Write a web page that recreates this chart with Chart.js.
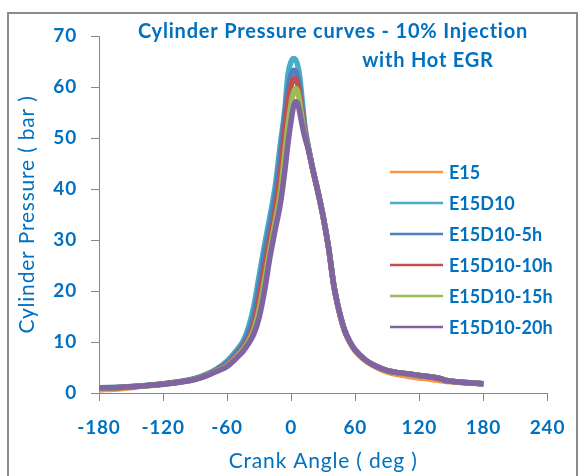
<!DOCTYPE html>
<html>
<head>
<meta charset="utf-8">
<title>Cylinder Pressure curves</title>
<script src="https://cdn.jsdelivr.net/npm/chart.js@4"></script>
<style>
  body { margin: 0; background: #fff; }
  #wrap { width: 579px; height: 476px; position: relative; }
</style>
</head>
<body>
<div id="wrap"><canvas id="myChart"></canvas></div>
<script>
'use strict'

// crank angle (deg) shared by all curves
let crankAngles = [-180, -160, -140, -120, -100, -90, -80, -70, -60, -50,
    -45, -40, -35, -30, -25, -20, -15, -10, -6, -3,
    0, 2, 4, 6, 8, 10, 13, 16, 20, 25,
    30, 35, 40, 45, 50, 55, 60, 70, 80, 90,
    100, 110, 120, 130, 140, 145, 150, 160, 170, 180];

// cylinder pressure (bar)
let e15 = [0.6, 0.85, 1.3, 1.75, 2.3, 2.75, 3.45, 4.5, 5.85, 8.1,
    9.5, 11.7, 15.1, 20.8, 27.0, 32.6, 38.4, 46.5, 54.2, 59.3,
    62.3, 63.1, 63.0, 61.8, 59.6, 56.0, 51.3, 48.0, 44.0, 39.3,
    34.3, 28.3, 20.8, 15.8, 12.1, 9.8, 8.2, 6.2, 5.0, 4.1,
    3.6, 3.25, 2.95, 2.7, 2.4, 2.25, 2.2, 2.0, 1.9, 1.75];
let e15d10 = [1.05, 1.15, 1.4, 1.8, 2.4, 2.85, 3.6, 4.7, 6.3, 8.7,
    10.2, 12.9, 17.0, 23.0, 29.0, 34.5, 40.5, 49.0, 55.5, 62.5,
    65.0, 65.6, 65.4, 64.3, 62.0, 58.0, 52.0, 48.3, 44.2, 39.6,
    34.6, 28.5, 21.0, 16.0, 12.3, 10.0, 8.4, 6.4, 5.2, 4.4,
    4.0, 3.75, 3.45, 3.2, 2.8, 2.45, 2.3, 2.1, 1.95, 1.8];
let e15d10_5h = [1.0, 1.12, 1.38, 1.78, 2.35, 2.8, 3.5, 4.55, 5.9, 8.2,
    9.6, 11.8, 15.2, 21.0, 27.2, 32.8, 38.6, 46.8, 54.5, 59.5,
    62.5, 63.3, 63.1, 62.0, 59.8, 56.2, 51.5, 48.2, 44.1, 39.5,
    34.5, 28.5, 21.0, 16.0, 12.3, 10.0, 8.4, 6.4, 5.2, 4.4,
    4.0, 3.75, 3.45, 3.2, 2.8, 2.45, 2.3, 2.1, 1.95, 1.8];
let e15d10_10h = [1.0, 1.1, 1.36, 1.75, 2.3, 2.75, 3.42, 4.4, 5.6, 7.7,
    9.0, 10.7, 13.3, 18.5, 24.5, 30.2, 35.6, 43.2, 51.5, 57.0,
    60.3, 61.5, 61.6, 60.6, 58.3, 55.0, 50.8, 48.0, 44.0, 39.5,
    34.5, 28.5, 21.0, 16.0, 12.3, 10.0, 8.4, 6.4, 5.2, 4.4,
    4.0, 3.75, 3.45, 3.2, 2.8, 2.45, 2.3, 2.1, 1.95, 1.8];
let e15d10_15h = [1.0, 1.1, 1.35, 1.72, 2.28, 2.7, 3.36, 4.3, 5.4, 7.4,
    8.6, 10.2, 12.4, 16.4, 22.0, 28.0, 33.6, 39.6, 47.0, 52.5,
    56.8, 58.8, 59.7, 59.2, 57.0, 54.0, 50.3, 47.9, 44.0, 39.5,
    34.5, 28.5, 21.0, 16.0, 12.3, 10.0, 8.4, 6.4, 5.2, 4.4,
    4.0, 3.75, 3.45, 3.2, 2.8, 2.45, 2.3, 2.1, 1.95, 1.8];
let e15d10_20h = [1.0, 1.1, 1.35, 1.7, 2.25, 2.65, 3.3, 4.2, 5.2, 7.1,
    8.2, 9.7, 11.6, 14.8, 20.0, 26.5, 32.0, 37.3, 43.5, 49.0,
    53.5, 56.0, 57.1, 56.8, 55.0, 52.8, 50.0, 47.8, 44.0, 39.5,
    34.5, 28.5, 21.0, 16.0, 12.3, 10.0, 8.4, 6.4, 5.2, 4.4,
    4.0, 3.75, 3.45, 3.2, 2.8, 2.45, 2.3, 2.1, 1.95, 1.8];

let seriesNames = ['E15', 'E15D10', 'E15D10-5h', 'E15D10-10h', 'E15D10-15h', 'E15D10-20h'];
let seriesValues = [e15, e15d10, e15d10_5h, e15d10_10h, e15d10_15h, e15d10_20h];
let seriesColors = ['#F79646', '#4BACC6', '#4F81BD', '#C0504D', '#9BBB59', '#8064A2'];

let xMin = -180, xMax = 240, xStep = 60;
let yMin = 0, yMax = 70, yStep = 10;

let titleLines = ['Cylinder Pressure curves - 10% Injection', 'with Hot EGR'];
let xTitle = 'Crank Angle ( deg )';
let yTitle = 'Cylinder Pressure ( bar )';

let textBlue = '#0070C0';
let axisGray = '#868686';

let datasets = [];
for (let i = 0; i < seriesNames.length; i++) {
    datasets.push({
        label: seriesNames[i],
        data: crankAngles.map((a, j) => ({ x: a, y: seriesValues[i][j] })),
        borderColor: seriesColors[i],
        backgroundColor: seriesColors[i],
        borderWidth: 5.5,
        pointRadius: 0,
        cubicInterpolationMode: 'monotone',
        order: seriesNames.length - i   // last series ends up on top
    });
}

// the source font is wider than Lato, so open the letters up a little
const spacingPlugin = {
    id: 'spacing',
    beforeDraw(chart) {
        chart.ctx.letterSpacing = '0.8px';
    }
};

// title sits inside the plot, two lines, not centred on each other
const titlePlugin = {
    id: 'insideTitle',
    afterDraw(chart) {
        let ctx = chart.ctx;
        ctx.save();
        ctx.letterSpacing = '0.8px';
        ctx.fillStyle = textBlue;
        ctx.font = 'bold 20px Lato';
        ctx.textAlign = 'center';
        ctx.textBaseline = 'middle';
        ctx.fillText(titleLines[0], 333, 32);
        ctx.fillText(titleLines[1], 428, 61);
        ctx.restore();
    }
};

const legendPlugin = {
    id: 'sideLegend',
    afterDraw(chart) {
        let ctx = chart.ctx;
        ctx.save();
        ctx.letterSpacing = '0px';
        ctx.font = 'bold 18px Lato';
        ctx.textBaseline = 'middle';
        ctx.textAlign = 'left';
        chart.data.datasets.forEach((ds, i) => {
            let y = 172 + i * 31;
            ctx.strokeStyle = ds.borderColor;
            ctx.lineWidth = 2.5;
            ctx.beginPath();
            ctx.moveTo(390, y);
            ctx.lineTo(443, y);
            ctx.stroke();
            ctx.fillStyle = textBlue;
            ctx.fillText(ds.label, 449, y + 1);
        });
        ctx.restore();
    }
};

const framePlugin = {
    id: 'frame',
    afterDraw(chart) {
        let ctx = chart.ctx;
        ctx.save();
        ctx.strokeStyle = '#8c8c8c';
        ctx.lineWidth = 2;
        ctx.strokeRect(8, 13, 569, 480);
        ctx.restore();
    }
};

var ctx = document.getElementById('myChart').getContext('2d');
var myChart = new Chart(ctx, {
    type: 'line',
    data: { datasets: datasets },
    options: {
        responsive: true,
        maintainAspectRatio: false,
        animation: false,
        layout: { padding: { top: 36, right: 29, left: 0, bottom: 0 } },
        plugins: {
            legend: { display: false },
            title: { display: false },
            tooltip: { enabled: false }
        },
        scales: {
            x: {
                type: 'linear',
                min: xMin,
                max: xMax,
                afterFit: (scale) => { scale.height = 83; },
                ticks: {
                    stepSize: xStep,
                    color: textBlue,
                    font: { family: 'Lato', size: 19, weight: 'bold' },
                    padding: 15,
                    maxRotation: 0
                },
                grid: { drawOnChartArea: false, drawTicks: true, tickLength: 8, color: axisGray },
                border: { color: axisGray, width: 1 },
                title: {
                    display: true,
                    text: xTitle,
                    color: textBlue,
                    font: { family: 'Lato', size: 21 },
                    padding: { top: 0, bottom: 2 }
                }
            },
            y: {
                min: yMin,
                max: yMax,
                afterFit: (scale) => { scale.width = 99; },
                ticks: {
                    stepSize: yStep,
                    color: textBlue,
                    font: { family: 'Lato', size: 19, weight: 'bold' },
                    padding: 14
                },
                grid: { drawOnChartArea: false, drawTicks: true, tickLength: 8, color: axisGray },
                border: { color: axisGray, width: 1 },
                title: {
                    display: true,
                    text: yTitle,
                    color: textBlue,
                    font: { family: 'Lato', size: 21 },
                    padding: { top: 15, bottom: 0 }
                }
            }
        }
    },
    plugins: [spacingPlugin, titlePlugin, legendPlugin, framePlugin]
});
</script>
</body>
</html>
